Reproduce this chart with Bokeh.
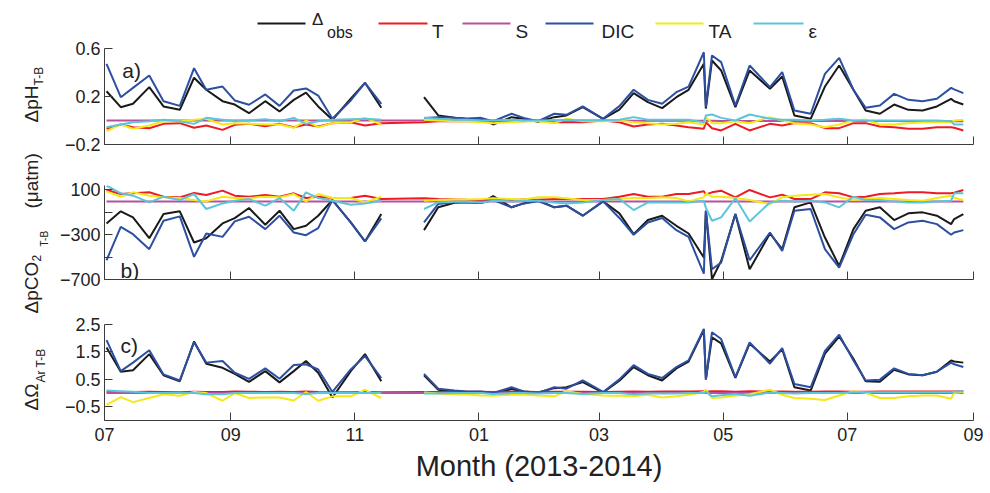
import math
import numpy as np
from bokeh.plotting import figure
from bokeh.layouts import row, column
from bokeh.models import Range1d, FixedTicker, Label
from bokeh.embed import file_html
from bokeh.resources import INLINE
from bokeh.core.properties import value

# ---------------- data ----------------
# sampling days, counted from 2013-07-01
days_2013 = [1, 8, 14, 22, 29, 37, 44, 50, 58, 64, 71, 79, 86, 93, 99, 105, 112, 121, 128, 136]
days_2014 = [157, 164, 172, 178, 185, 191, 200, 206, 213, 221, 227, 235, 245, 253, 260, 267, 274,
             281, 287, 294.5, 295.5, 298.5, 303, 310, 317, 327, 333, 339, 347, 354, 361, 368, 374,
             381, 388, 395, 402, 409, 416, 417.5, 422]

month_ticks = [0, 62, 123, 184, 243, 304, 365, 427]
month_labels = ["07", "09", "11", "01", "03", "05", "07", "09"]

series_keys = ["obs", "T", "S", "DIC", "TA", "eps"]
series_colors = ["#1a1a1a", "#ed1c24", "#b8509e", "#2d4fa1", "#f4e916", "#5bc6da"]

# panel a : delta pH (T-B)
ph_obs_1 = [0.244, 0.111, 0.139, 0.278, 0.117, 0.089, 0.356, 0.256, 0.161, 0.133, 0.061, 0.161, 0.075, 0.172, 0.233, 0.117, 0.006, 0.181, 0.314, 0.106]
ph_obs_2 = [0.194, 0.042, 0.022, 0.014, 0.014, -0.033, 0.028, 0.014, -0.010, 0.028, 0.042, 0.111, 0.014, 0.090, 0.228, 0.153, 0.103, 0.194, 0.256, 0.472, 0.100, 0.500, 0.417, 0.111, 0.417, 0.264, 0.367, 0.042, 0.014, 0.283, 0.458, 0.256, 0.083, 0.056, 0.133, 0.089, 0.083, 0.117, 0.181, 0.160, 0.133]
ph_dic_1 = [0.472, 0.194, 0.272, 0.375, 0.161, 0.122, 0.436, 0.256, 0.283, 0.167, 0.131, 0.217, 0.122, 0.250, 0.267, 0.208, 0.014, 0.167, 0.314, 0.139]
ph_dic_2 = [0.020, 0.028, 0.022, 0.014, 0.022, -0.006, 0.056, 0.022, -0.006, 0.056, 0.047, 0.117, 0.014, 0.120, 0.256, 0.172, 0.139, 0.236, 0.283, 0.569, 0.111, 0.542, 0.486, 0.125, 0.458, 0.278, 0.403, 0.083, 0.056, 0.389, 0.522, 0.256, 0.106, 0.125, 0.222, 0.172, 0.161, 0.181, 0.272, 0.260, 0.228]
ph_t_1 = [-0.069, -0.033, -0.056, -0.064, -0.028, -0.022, -0.061, -0.042, -0.078, -0.036, -0.028, -0.047, -0.028, -0.056, -0.033, -0.050, -0.022, -0.014, -0.042, -0.022]
ph_t_2 = [-0.014, -0.006, -0.006, -0.006, -0.006, -0.014, -0.006, -0.006, 0.000, -0.014, -0.014, -0.014, 0.000, -0.014, -0.050, -0.033, -0.028, -0.042, -0.056, -0.069, -0.014, -0.064, -0.083, -0.028, -0.083, -0.028, -0.042, -0.022, -0.022, -0.064, -0.064, -0.022, -0.022, -0.050, -0.056, -0.069, -0.069, -0.056, -0.056, -0.060, -0.083]
ph_s_1 = [0.000, 0.000, 0.000, 0.000, 0.000, 0.000, 0.000, 0.000, 0.000, 0.000, 0.000, 0.000, 0.000, 0.000, 0.000, 0.000, 0.000, 0.000, 0.000, 0.000]
ph_s_2 = [0.000, 0.000, 0.000, 0.000, 0.000, 0.000, 0.000, 0.000, 0.000, 0.000, 0.000, 0.000, 0.000, 0.000, -0.002, -0.002, -0.002, -0.002, -0.002, -0.003, -0.003, -0.003, -0.004, -0.004, -0.004, -0.004, -0.004, -0.004, -0.004, -0.005, -0.005, -0.005, -0.005, -0.005, -0.005, -0.006, -0.006, -0.006, -0.006, -0.006, -0.006]
ph_ta_1 = [-0.089, -0.033, -0.069, -0.042, -0.006, -0.006, 0.006, 0.014, -0.033, -0.022, -0.028, -0.033, -0.033, -0.061, 0.000, -0.056, -0.022, -0.014, 0.022, -0.033]
ph_ta_2 = [0.006, 0.000, -0.006, -0.006, -0.014, -0.022, -0.014, -0.006, -0.006, -0.022, 0.014, -0.006, -0.006, 0.000, -0.014, -0.022, -0.033, -0.028, -0.014, -0.033, 0.028, -0.022, -0.022, -0.006, -0.022, 0.028, 0.000, -0.022, -0.033, -0.056, -0.033, 0.000, 0.006, -0.033, -0.033, -0.022, -0.014, -0.014, -0.014, 0.000, 0.006]
ph_eps_1 = [-0.056, -0.033, -0.014, -0.006, 0.006, -0.006, -0.028, 0.022, 0.006, -0.006, 0.000, 0.011, -0.006, 0.022, -0.028, -0.006, 0.006, 0.011, 0.014, 0.006]
ph_eps_2 = [0.022, 0.014, 0.006, 0.006, 0.000, 0.000, 0.006, 0.000, 0.000, 0.000, 0.006, 0.000, 0.000, 0.006, 0.028, 0.006, 0.006, 0.006, 0.006, -0.014, 0.042, 0.050, 0.022, 0.000, 0.050, 0.014, 0.006, 0.006, 0.000, 0.006, 0.014, 0.000, 0.000, 0.000, 0.000, 0.000, 0.000, 0.000, -0.006, -0.033, -0.033]

# panel b : delta pCO2 (T-B), uatm
co2_obs_1 = [-199, -91, -145, -331, -115, -91, -369, -331, -199, -151, -61, -211, -85, -250, -220, -130, 10, -190, -360, -115]
co2_obs_2 = [-259, -55, -15, -10, -17, 45, -55, -20, 10, -55, -40, -130, -2, -109, -295, -169, -130, -220, -289, -504, -85, -698, -534, -115, -609, -289, -429, -55, -11, -325, -579, -250, -85, -55, -169, -109, -100, -130, -205, -160, -115]
co2_dic_1 = [-528, -230, -295, -429, -175, -136, -498, -289, -319, -181, -139, -250, -130, -280, -304, -241, 10, -190, -360, -154]
co2_dic_2 = [-190, -25, -10, -10, -17, 10, -55, -20, 0, -55, -40, -130, -2, -150, -300, -190, -151, -259, -319, -648, -85, -609, -549, -115, -528, -280, -444, -85, -70, -429, -594, -295, -121, -145, -250, -190, -175, -205, -300, -280, -259]
co2_t_1 = [100, 64, 70, 79, 40, 34, 73, 55, 94, 49, 40, 55, 40, 70, 28, 40, 28, 28, 49, 19]
co2_t_2 = [25, 19, 15, 12, 10, 12, 10, 15, 12, 19, 19, 19, 19, 40, 64, 40, 40, 64, 64, 88, 60, 79, 94, 34, 100, 34, 58, 19, 19, 79, 70, 34, 40, 64, 70, 79, 79, 70, 70, 75, 100]
co2_s_1 = [-2, -2, -2, -2, -2, -2, -2, -2, -2, -2, -2, -2, -2, -2, -2, -2, -2, -2, -2, -2]
co2_s_2 = [-2, -2, -2, -2, -2, -2, -2, -2, -2, -2, -2, -2, -2, -2, -2, -2, -2, -2, -2, -2, -2, -2, -2, -2, -2, -2, -2, -2, -2, -2, -2, -2, -2, -2, -2, -2, -2, -2, -2, -2, -2]
co2_ta_1 = [88, 40, 79, 49, 34, 28, 10, -2, 40, 28, 28, 40, 34, 64, -2, 64, 28, 28, -11, 40]
co2_ta_2 = [4, 10, 15, 15, 19, 25, 20, 15, 34, 34, 25, 10, 10, 20, 28, 28, 34, 28, -2, 34, 70, 40, 40, 28, 10, -26, 34, 49, 58, 64, 34, 10, 19, 28, 19, 10, 4, 28, 49, 30, 10]
co2_eps_1 = [140, 70, 49, -11, 40, 10, 64, -70, -20, 4, 19, -40, 28, -85, 79, 28, 4, -32, -20, 4]
co2_eps_2 = [-70, -11, -5, -5, -11, 4, -2, 4, 4, -11, -20, -11, 10, 19, -79, -11, -11, -11, -11, 4, -60, -175, -145, 28, -181, -11, 4, -2, 4, -11, -55, 40, 10, 10, -2, -11, -11, -2, 4, 70, 70]

# panel c : delta Omega aragonite (T-B)
om_obs_1 = [1.66, 0.78, 0.83, 1.42, 0.65, 0.43, 1.88, 1.07, 0.92, 0.70, 0.41, 0.80, 0.39, 0.80, 1.17, 0.74, -0.16, 0.80, 1.42, 0.43]
om_obs_2 = [0.65, 0.12, 0.06, 0.04, 0.04, -0.02, 0.15, 0.06, 0.02, 0.18, 0.21, 0.40, 0.02, 0.45, 0.95, 0.65, 0.46, 0.90, 1.15, 2.30, 0.50, 2.03, 1.81, 0.55, 1.80, 1.15, 1.60, 0.21, 0.09, 1.44, 2.06, 1.25, 0.43, 0.41, 0.85, 0.68, 0.65, 0.78, 1.19, 1.15, 1.11]
om_dic_1 = [1.93, 0.80, 1.11, 1.56, 0.68, 0.46, 1.85, 1.11, 1.17, 0.74, 0.52, 0.90, 0.52, 1.02, 1.05, 0.86, 0.04, 0.86, 1.35, 0.55]
om_dic_2 = [0.70, 0.16, 0.09, 0.06, 0.06, 0.00, 0.21, 0.06, 0.00, 0.21, 0.16, 0.46, 0.04, 0.50, 1.02, 0.70, 0.55, 0.95, 1.19, 2.34, 0.49, 2.22, 1.97, 0.58, 1.85, 1.07, 1.64, 0.33, 0.21, 1.54, 2.13, 1.19, 0.46, 0.49, 0.90, 0.70, 0.65, 0.78, 1.11, 1.05, 0.95]
om_t_1 = [0.05, 0.03, 0.04, 0.05, 0.04, 0.03, 0.05, 0.04, 0.04, 0.06, 0.05, 0.04, 0.05, 0.04, 0.06, 0.04, 0.03, 0.03, 0.04, 0.03]
om_t_2 = [0.04, 0.04, 0.05, 0.05, 0.05, 0.04, 0.05, 0.05, 0.04, 0.05, 0.05, 0.05, 0.04, 0.05, 0.06, 0.05, 0.06, 0.06, 0.06, 0.07, 0.05, 0.07, 0.07, 0.05, 0.07, 0.05, 0.06, 0.05, 0.05, 0.06, 0.06, 0.05, 0.05, 0.06, 0.06, 0.06, 0.06, 0.06, 0.06, 0.06, 0.07]
om_s_1 = [0.00, 0.00, 0.00, 0.00, 0.00, 0.00, 0.00, 0.00, 0.00, 0.00, 0.00, 0.00, 0.00, 0.00, 0.00, 0.00, 0.00, 0.00, 0.00, 0.00]
om_s_2 = [0.00, 0.00, 0.00, 0.00, 0.00, 0.00, 0.00, 0.00, 0.00, 0.00, 0.00, 0.00, 0.00, 0.00, 0.00, 0.00, 0.00, 0.00, 0.00, 0.00, 0.00, 0.00, 0.00, 0.00, 0.00, 0.00, 0.00, 0.00, 0.00, 0.00, 0.00, 0.00, 0.00, 0.00, 0.00, 0.00, 0.00, 0.00, 0.00, 0.00, 0.00]
om_ta_1 = [-0.43, -0.15, -0.33, -0.18, -0.04, -0.10, 0.04, 0.00, -0.28, 0.00, -0.18, -0.16, -0.16, -0.27, 0.04, -0.28, -0.12, -0.12, 0.12, -0.18]
om_ta_2 = [0.02, -0.02, -0.05, -0.05, -0.09, -0.10, -0.06, -0.05, -0.09, -0.12, 0.07, -0.03, -0.09, -0.10, -0.12, -0.06, -0.16, -0.12, -0.06, 0.04, 0.12, -0.18, -0.16, -0.09, -0.04, 0.12, -0.06, -0.18, -0.21, -0.25, -0.09, 0.07, 0.01, -0.18, -0.18, -0.12, -0.09, -0.09, -0.21, 0.00, 0.04]
om_eps_1 = [0.09, 0.07, 0.05, 0.00, 0.00, 0.00, 0.00, -0.04, -0.04, 0.00, 0.00, 0.00, 0.00, 0.00, -0.03, 0.00, 0.00, 0.00, 0.00, 0.00]
om_eps_2 = [-0.02, -0.02, 0.00, 0.00, 0.00, -0.03, 0.00, 0.00, -0.02, 0.00, 0.00, -0.03, 0.00, 0.00, -0.05, -0.02, -0.02, -0.02, 0.00, 0.00, 0.05, -0.12, -0.08, -0.03, -0.10, 0.02, 0.00, -0.02, 0.00, 0.00, 0.00, 0.03, 0.03, 0.03, 0.03, 0.03, 0.03, 0.03, 0.03, 0.05, 0.07]

panel_a = {"obs": (ph_obs_1, ph_obs_2), "T": (ph_t_1, ph_t_2), "S": (ph_s_1, ph_s_2),
           "DIC": (ph_dic_1, ph_dic_2), "TA": (ph_ta_1, ph_ta_2), "eps": (ph_eps_1, ph_eps_2)}
panel_b = {"obs": (co2_obs_1, co2_obs_2), "T": (co2_t_1, co2_t_2), "S": (co2_s_1, co2_s_2),
           "DIC": (co2_dic_1, co2_dic_2), "TA": (co2_ta_1, co2_ta_2), "eps": (co2_eps_1, co2_eps_2)}
panel_c = {"obs": (om_obs_1, om_obs_2), "T": (om_t_1, om_t_2), "S": (om_s_1, om_s_2),
           "DIC": (om_dic_1, om_dic_2), "TA": (om_ta_1, om_ta_2), "eps": (om_eps_1, om_eps_2)}
continuous_keys = ["T", "S"]   # these lines bridge the winter data gap

# ---------------- style ----------------
FONT = "Liberation Sans"
INK = "#222222"
AXC = "#3c3c3c"
W_LEFT = 56
W_MAIN = 990 - W_LEFT


def style_common(p):
    p.outline_line_color = None
    p.grid.visible = False
    p.background_fill_color = "white"
    p.border_fill_color = "white"


def make_panel(data, height, top, bottom, yr, ybounds, yticks, ylabels, tag, tag_xy, last=False):
    p = figure(width=W_MAIN, height=height, x_range=Range1d(0, 427), y_range=Range1d(*yr),
               output_backend="svg", toolbar_location=None, title=None,
               min_border_left=104 - W_LEFT, min_border_right=17,
               min_border_top=top, min_border_bottom=bottom)
    style_common(p)
    for key, col in zip(series_keys, series_colors):
        a, b = data[key]
        if key in continuous_keys:
            xs = np.array(days_2013 + days_2014, dtype=float)
            ys = np.array(a + b, dtype=float)
        else:
            xs = np.array(days_2013 + [np.nan] + days_2014, dtype=float)
            ys = np.array(a + [np.nan] + b, dtype=float)
        p.line(xs, ys, line_color=col, line_width=2)

    xa = p.xaxis[0]
    xa.ticker = FixedTicker(ticks=month_ticks)
    xa.axis_line_color = AXC
    xa.major_tick_line_color = AXC
    xa.major_tick_in = 8
    xa.major_tick_out = 0
    xa.minor_tick_line_color = None
    if last:
        xa.major_label_overrides = {t: l for t, l in zip(month_ticks, month_labels)}
        xa.major_label_text_font = FONT
        xa.major_label_text_font_size = "18px"
        xa.major_label_text_color = INK
        xa.major_label_standoff = 7
        xa.axis_label = "Month (2013-2014)"
        xa.axis_label_text_font = FONT
        xa.axis_label_text_font_size = "29px"
        xa.axis_label_text_font_style = "normal"
        xa.axis_label_text_color = INK
        xa.axis_label_standoff = 6
    else:
        xa.major_label_overrides = {t: "" for t in month_ticks}
        xa.major_label_text_font_size = "1px"
        xa.major_label_standoff = 0

    ya = p.yaxis[0]
    ya.bounds = ybounds
    ya.ticker = FixedTicker(ticks=yticks)
    ya.major_label_overrides = {t: l for t, l in zip(yticks, ylabels)}
    ya.major_label_text_font = FONT
    ya.major_label_text_font_size = "18px"
    ya.major_label_text_color = INK
    ya.major_label_standoff = 4
    ya.axis_line_color = AXC
    ya.major_tick_line_color = AXC
    ya.major_tick_in = 8
    ya.major_tick_out = 0
    ya.minor_tick_line_color = None

    p.add_layout(Label(x=tag_xy[0], y=tag_xy[1], text=tag, text_font=FONT,
                       text_font_size="21px", text_color=INK, text_baseline="alphabetic"))
    return p


# panel a frame reaches the top of the page (legend lives there); its axis is bounded to -0.2..0.6
# panel a: y 0..144 px  -> (-0.2 .. 1.0) ; panel b frame: 185..279 ; panel c frame: 324..420
fa = make_panel(panel_a, 166, 0, 22, (-0.2, 1.0), (-0.2, 0.6), [-0.2, 0.2, 0.6],
                ["\u22120.2", "0.2", "0.6"], "a)", (8.7, 0.417))
fb = make_panel(panel_b, 130, 19, 17, (-700, 140), (-700, 140), [-700, -500, -300, -100, 100],
                ["\u2212700", "", "\u2212300", "", "100"], "b)", (7.9, -624))
fc = make_panel(panel_c, 197, 28, 73, (-1.0, 2.5), (-1.0, 2.5), [-0.5, 0.5, 1.5, 2.5],
                ["\u22120.5", "0.5", "1.5", "2.5"], "c)", (7.9, 1.73), last=True)


# ---------------- legend (drawn in the top strip of panel a) ----------------
def lx(px):   # page pixel x -> panel-a x coordinate
    return (px - 104) / (869.0 / 427.0)


def ly(py):   # page pixel y -> panel-a y coordinate
    return 1.0 - py / 120.0


leg_px0 = [257, 378, 462, 545, 655, 753]
leg_px1 = [305, 427, 510, 593, 703, 803]
leg_py = 23.0
fa.segment(x0=[lx(v) for v in leg_px0], y0=[ly(leg_py)] * 6,
           x1=[lx(v) for v in leg_px1], y1=[ly(leg_py)] * 6,
           line_color=series_colors, line_width=2)
fa.text(x=[lx(v) for v in [431.5, 515, 601, 708, 808]], y=[ly(leg_py + 7.6)] * 5,
        text=["T", "S", "DIC", "TA", "\u03b5"],
        text_font=value(FONT), text_font_size=value("19px"), text_color=INK,
        text_align="left", text_baseline="alphabetic")
fa.text(x=[lx(311.5)], y=[ly(leg_py - 4.0)], text=["\u0394"], text_font=value(FONT),
        text_font_size=value("17px"), text_color=INK, text_align="left", text_baseline="alphabetic")
fa.text(x=[lx(326.5)], y=[ly(leg_py + 9.3)], text=["obs"], text_font=value(FONT),
        text_font_size=value("16px"), text_color=INK, text_align="left", text_baseline="alphabetic")

# ---------------- y-axis titles (rotated, with subscripts) ----------------
lab = figure(width=W_LEFT, height=493, x_range=Range1d(0, W_LEFT), y_range=Range1d(0, 493),
             output_backend="svg", toolbar_location=None, title=None,
             x_axis_type=None, y_axis_type=None,
             min_border=0, min_border_left=0, min_border_right=0, min_border_top=0, min_border_bottom=0)
style_common(lab)


def vtext(x, py, txt, size):
    lab.text(x=[x], y=[493 - py], text=[txt], angle=math.pi / 2, text_font=value(FONT),
             text_font_size=value(size), text_color=INK, text_align="left",
             text_baseline="alphabetic")


vtext(31, 122, "\u0394pH", "19px")
vtext(38, 85, "T-B", "12px")
vtext(31, 313, "\u0394pCO", "19px")
vtext(36, 261, "2", "12px")
vtext(44, 246, "T-B", "10px")
vtext(31, 208, "(\u03bcatm)", "19px")
vtext(31, 410, "\u0394\u03a9", "19px")
vtext(40, 382, "Ar", "12px")
vtext(40, 367, "T-B", "12px")

layout = row(lab, column(fa, fb, fc))
open("out.html", "w").write(file_html(layout, INLINE))
